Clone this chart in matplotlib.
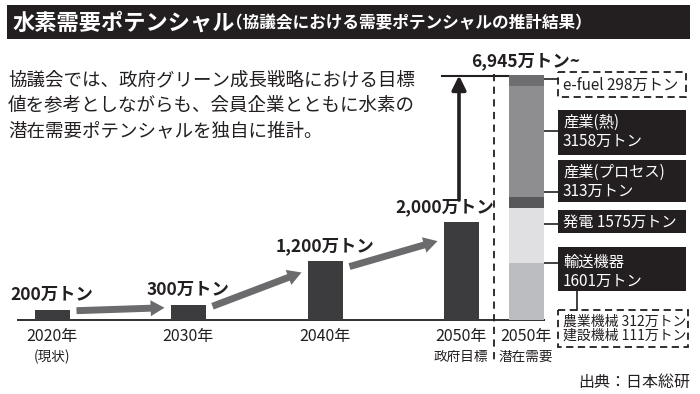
import matplotlib
matplotlib.use("Agg")
import matplotlib.pyplot as plt
from matplotlib.patches import Rectangle

plt.rcParams['font.family'] = ['Noto Sans CJK JP', 'DejaVu Sans']

# ---------------- data ----------------
year_labels = ["2020年", "2030年", "2040年", "2050年"]
year_sublabels = ["(現状)", "", "", "政府目標"]
values = [200, 300, 1200, 2000]
value_labels = ["200万トン", "300万トン", "1,200万トン", "2,000万トン"]

stack_names = ["輸送機器", "発電", "産業(プロセス)", "産業(熱)", "e-fuel"]
stack_values = [1601, 1575, 313, 3158, 298]
total_label = "6,945万トン~"
potential_label = ["2050年", "潜在需要"]
breakdown_names = ["農業機械", "建設機械"]
breakdown_values = [312, 111]

title = "水素需要ポテンシャル"
subtitle = "（協議会における需要ポテンシャルの推計結果）"
body = ["協議会では、政府グリーン成長戦略における目標",
        "値を参考としながらも、会員企業とともに水素の",
        "潜在需要ポテンシャルを独自に推計。"]
source = "出典：日本総研"

# ---------------- layout ----------------
W, H = 700, 394
BASE = 319.5            # baseline, px from top
S_BAR = 98 / 2000       # px per unit, left bars
S_STACK = 244 / 6945    # px per unit, stacked bar
bar_x = [52, 188, 325, 461]
stack_x = 526
bar_w = 35
label_dx = [0, 0, 0, -16]

ink = "#231f20"
bar_color = "#3c3c3e"
stack_colors = ["#bcbdc0", "#e0e0e2", "#58585a", "#8e8e90", "#6e6e70"]
arrow_color = "#6b6b6d"

fig = plt.figure(figsize=(7, 3.94), dpi=100)
fig.patch.set_facecolor("white")

ov = fig.add_axes([0, 0, 1, 1])
ov.set_xlim(0, W)
ov.set_ylim(H, 0)
ov.axis("off")

ax = fig.add_axes([0, 0, 1, 1])
ax.set_xlim(0, W)
ax.set_ylim(-(H - BASE) / S_BAR, BASE / S_BAR)
ax.axis("off")
ax.patch.set_alpha(0)

axs = fig.add_axes([0, 0, 1, 1])
axs.set_xlim(0, W)
axs.set_ylim(-(H - BASE) / S_STACK, BASE / S_STACK)
axs.axis("off")
axs.patch.set_alpha(0)

# title bar
ov.add_patch(Rectangle((7, 5), 683, 34, facecolor=ink, edgecolor="none"))
ov.text(13, 23, title, color="white", fontsize=16, fontweight="bold", va="center", ha="left")
ov.text(226, 23, subtitle, color="white", fontsize=12, fontweight="bold", va="center", ha="left")

# body text
for i, line in enumerate(body):
    ov.text(8, 80 + i * 25.5, line, fontsize=13.3, va="center", ha="left", color=ink)

# baseline
ov.plot([17, 545], [BASE, BASE], color=ink, lw=1.3, solid_capstyle="butt")

# bars
ax.bar(bar_x, values, width=bar_w, color=bar_color, zorder=3)
for x, v, lab, dx in zip(bar_x, values, value_labels, label_dx):
    ax.annotate(lab, xy=(x, v), xytext=(dx * 0.72, 4), textcoords="offset points",
                ha="center", va="bottom", fontsize=12.5, fontweight="bold", color=ink)

# grey growth arrows
for i in range(len(values) - 1):
    x0 = bar_x[i] + bar_w / 2 + 7
    x1 = bar_x[i + 1] - bar_w / 2 - 6
    ax.annotate("", xy=(x1, values[i + 1] * 0.8), xytext=(x0, values[i] * 0.9),
                arrowprops=dict(arrowstyle="simple,head_length=1.0,head_width=1.15,tail_width=0.5",
                                mutation_scale=10, color=arrow_color, lw=0, shrinkA=0, shrinkB=0))

# stacked bar
bottom = 0
for v, c in zip(stack_values, stack_colors):
    axs.bar(stack_x, v, bottom=bottom, width=bar_w, color=c, zorder=3)
    bottom += v
total = bottom

# total line, arrow and label
axs.plot([442, stack_x - bar_w / 2], [total, total], color=ink, lw=1.5)
axs.annotate("", xy=(459, total), xytext=(459, 200), textcoords=ov.transData,
             arrowprops=dict(arrowstyle="-|>,head_length=0.85,head_width=0.42", mutation_scale=10,
                             color=ink, lw=2.6, shrinkA=0, shrinkB=0))
axs.annotate(total_label, xy=(stack_x, total), xytext=(0, 4), textcoords="offset points",
             ha="center", va="bottom", fontsize=12.5, fontweight="bold", color=ink)

# dashed separator
ov.plot([494, 494], [74, 362], color=ink, lw=1.3, ls=(0, (4, 3)))

# x labels
for x, l1, l2 in zip(bar_x, year_labels, year_sublabels):
    ov.text(x, 336, l1, fontsize=11.5, ha="center", va="center", color=ink)
    if l2:
        ov.text(x, 357, l2, fontsize=9.8, ha="center", va="center", color=ink)
ov.text(stack_x, 336, potential_label[0], fontsize=11.5, ha="center", va="center", color=ink)
ov.text(stack_x, 357, potential_label[1], fontsize=9.8, ha="center", va="center", color=ink)

# label boxes
bx0, bx1 = 558, 686
boxes = {  # name: (y0, y1, connector y, text lines y)
    "e-fuel": (72, 97, 79, [85]),
    "産業(熱)": (110, 155, 131, [122, 141]),
    "産業(プロセス)": (160, 202, 192, [172, 191]),
    "発電": (210, 233, 224, [222]),
    "輸送機器": (247, 291, 263, [262, 281]),
}
dash = (0, (4, 2.5))
fs_box = 11
for name, v in zip(stack_names, stack_values):
    y0, y1, yc, ys = boxes[name]
    ov.plot([stack_x + bar_w / 2, bx0], [yc, yc], color=ink, lw=1.2)
    if name == "e-fuel":
        ov.add_patch(Rectangle((bx0, y0), bx1 - bx0, y1 - y0, facecolor="white",
                               edgecolor=ink, lw=1.3, ls=dash))
        ov.text(bx0 + 5, ys[0], f"{name} {v}万トン", fontsize=fs_box, va="center", color=ink)
    else:
        ov.add_patch(Rectangle((bx0, y0), bx1 - bx0, y1 - y0, facecolor=ink, edgecolor="none"))
        if len(ys) == 1:
            ov.text(bx0 + 5, ys[0], f"{name} {v}万トン", fontsize=fs_box, va="center", color="white")
        else:
            ov.text(bx0 + 5, ys[0], name, fontsize=fs_box, va="center", color="white")
            ov.text(bx0 + 5, ys[1], f"{v}万トン", fontsize=fs_box, va="center", color="white")

# breakdown of transport
ov.plot([577, 577], [291, 310], color=ink, lw=1.2)
ov.add_patch(Rectangle((bx0, 310), bx1 + 2 - bx0, 37, facecolor="white",
                       edgecolor=ink, lw=1.3, ls=dash))
for i, (n, v) in enumerate(zip(breakdown_names, breakdown_values)):
    ov.text(bx0 + 5, 322 + i * 14, f"{n} {v}万トン", fontsize=10, va="center", color=ink)

# source
ov.text(690, 382, source, fontsize=11.5, ha="right", va="center", color=ink)

fig.savefig("out.png", dpi=100, facecolor="white")
